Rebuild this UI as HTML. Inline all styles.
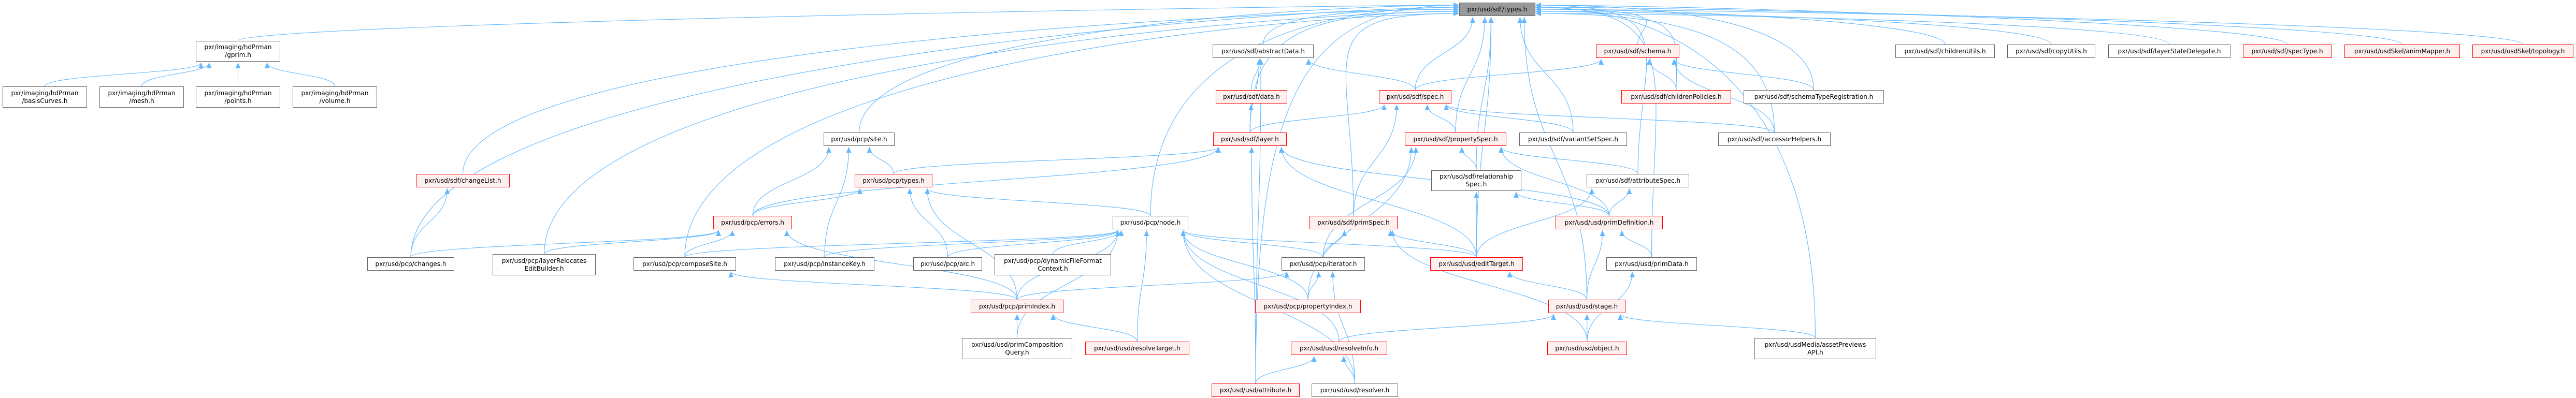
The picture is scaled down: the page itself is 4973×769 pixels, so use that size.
<!DOCTYPE html>
<html><head><meta charset="utf-8">
<style>
html,body{margin:0;padding:0;background:#fff;}
#c{position:relative;width:4973px;height:769px;overflow:hidden;}
svg{position:absolute;left:0;top:0;}
.n{position:absolute;box-sizing:border-box;border:1.5px solid #666;background:#fff;display:flex;align-items:center;justify-content:center;text-align:center;font-family:"DejaVu Sans","Liberation Sans",sans-serif;font-size:12px;line-height:15px;color:#000;white-space:nowrap;}
.r{border-color:#ff0000;background:#fff0f0;}
.g{background:#999;border-color:#666;}
</style></head><body><div id="c">
<svg id="s" width="4973" height="769" xmlns="http://www.w3.org/2000/svg">
<defs><marker id="a" markerUnits="userSpaceOnUse" markerWidth="12" markerHeight="10" refX="11" refY="5" orient="auto"><path d="M0,0 L11,5 L0,10 z" fill="#63b8ff"/></marker></defs>
<g id="e" fill="none" stroke="#63b8ff" stroke-width="1.1"></g>
</svg>
<div class="n g" style="left:2817px;top:5px;width:147px;height:26px">pxr/usd/sdf/types.h</div>
<div class="n" style="left:378px;top:79px;width:163px;height:40px">pxr/imaging/hdPrman<br>/gprim.h</div>
<div class="n" style="left:5px;top:167px;width:163px;height:41px">pxr/imaging/hdPrman<br>/basisCurves.h</div>
<div class="n" style="left:192px;top:167px;width:163px;height:41px">pxr/imaging/hdPrman<br>/mesh.h</div>
<div class="n" style="left:378px;top:167px;width:163px;height:41px">pxr/imaging/hdPrman<br>/points.h</div>
<div class="n" style="left:565px;top:167px;width:163px;height:41px">pxr/imaging/hdPrman<br>/volume.h</div>
<div class="n" style="left:709px;top:497px;width:168px;height:26px">pxr/usd/pcp/changes.h</div>
<div class="n r" style="left:803px;top:336px;width:181px;height:26px">pxr/usd/sdf/changeList.h</div>
<div class="n" style="left:951px;top:491px;width:199px;height:41px">pxr/usd/pcp/layerRelocates<br>EditBuilder.h</div>
<div class="n" style="left:1223px;top:497px;width:198px;height:26px">pxr/usd/pcp/composeSite.h</div>
<div class="n r" style="left:1377px;top:417px;width:152px;height:26px">pxr/usd/pcp/errors.h</div>
<div class="n" style="left:1496px;top:497px;width:192px;height:26px">pxr/usd/pcp/instanceKey.h</div>
<div class="n" style="left:1590px;top:256px;width:137px;height:26px">pxr/usd/pcp/site.h</div>
<div class="n r" style="left:1650px;top:336px;width:150px;height:26px">pxr/usd/pcp/types.h</div>
<div class="n" style="left:1763px;top:497px;width:133px;height:26px">pxr/usd/pcp/arc.h</div>
<div class="n" style="left:1920px;top:491px;width:225px;height:41px">pxr/usd/pcp/dynamicFileFormat<br>Context.h</div>
<div class="n" style="left:2148px;top:417px;width:146px;height:26px">pxr/usd/pcp/node.h</div>
<div class="n r" style="left:1874px;top:579px;width:179px;height:26px">pxr/usd/pcp/primIndex.h</div>
<div class="n" style="left:1857px;top:653px;width:213px;height:41px">pxr/usd/usd/primComposition<br>Query.h</div>
<div class="n r" style="left:2095px;top:660px;width:201px;height:26px">pxr/usd/usd/resolveTarget.h</div>
<div class="n" style="left:2341px;top:86px;width:195px;height:26px">pxr/usd/sdf/abstractData.h</div>
<div class="n r" style="left:2347px;top:174px;width:138px;height:26px">pxr/usd/sdf/data.h</div>
<div class="n r" style="left:2342px;top:256px;width:142px;height:26px">pxr/usd/sdf/layer.h</div>
<div class="n" style="left:2474px;top:497px;width:161px;height:26px">pxr/usd/pcp/iterator.h</div>
<div class="n r" style="left:2423px;top:579px;width:204px;height:26px">pxr/usd/pcp/propertyIndex.h</div>
<div class="n r" style="left:2339px;top:741px;width:170px;height:26px">pxr/usd/usd/attribute.h</div>
<div class="n r" style="left:2492px;top:660px;width:186px;height:26px">pxr/usd/usd/resolveInfo.h</div>
<div class="n" style="left:2532px;top:741px;width:167px;height:26px">pxr/usd/usd/resolver.h</div>
<div class="n r" style="left:3081px;top:86px;width:161px;height:26px">pxr/usd/sdf/schema.h</div>
<div class="n r" style="left:2662px;top:174px;width:140px;height:26px">pxr/usd/sdf/spec.h</div>
<div class="n r" style="left:3130px;top:174px;width:212px;height:26px">pxr/usd/sdf/childrenPolicies.h</div>
<div class="n r" style="left:2712px;top:256px;width:196px;height:26px">pxr/usd/sdf/propertySpec.h</div>
<div class="n" style="left:2933px;top:256px;width:208px;height:26px">pxr/usd/sdf/variantSetSpec.h</div>
<div class="n" style="left:3317px;top:256px;width:217px;height:26px">pxr/usd/sdf/accessorHelpers.h</div>
<div class="n" style="left:2763px;top:329px;width:174px;height:40px">pxr/usd/sdf/relationship<br>Spec.h</div>
<div class="n" style="left:3063px;top:336px;width:198px;height:26px">pxr/usd/sdf/attributeSpec.h</div>
<div class="n r" style="left:2528px;top:417px;width:170px;height:26px">pxr/usd/sdf/primSpec.h</div>
<div class="n r" style="left:3003px;top:417px;width:207px;height:26px">pxr/usd/usd/primDefinition.h</div>
<div class="n r" style="left:2761px;top:497px;width:179px;height:26px">pxr/usd/usd/editTarget.h</div>
<div class="n" style="left:3101px;top:497px;width:175px;height:26px">pxr/usd/usd/primData.h</div>
<div class="n r" style="left:2989px;top:579px;width:149px;height:26px">pxr/usd/usd/stage.h</div>
<div class="n r" style="left:2987px;top:660px;width:154px;height:26px">pxr/usd/usd/object.h</div>
<div class="n" style="left:3366px;top:174px;width:271px;height:26px">pxr/usd/sdf/schemaTypeRegistration.h</div>
<div class="n" style="left:3659px;top:86px;width:192px;height:26px">pxr/usd/sdf/childrenUtils.h</div>
<div class="n" style="left:3875px;top:86px;width:170px;height:26px">pxr/usd/sdf/copyUtils.h</div>
<div class="n" style="left:4070px;top:86px;width:236px;height:26px">pxr/usd/sdf/layerStateDelegate.h</div>
<div class="n" style="left:3387px;top:653px;width:235px;height:41px">pxr/usd/usdMedia/assetPreviews<br>API.h</div>
<div class="n r" style="left:4330px;top:86px;width:171px;height:26px">pxr/usd/sdf/specType.h</div>
<div class="n r" style="left:4526px;top:86px;width:223px;height:26px">pxr/usd/usdSkel/animMapper.h</div>
<div class="n r" style="left:4773px;top:86px;width:195px;height:26px">pxr/usd/usdSkel/topology.h</div>
</div>
<script>
var N={
types:[2817,2964,5,31],gprim:[378,541,79,119],basis:[5,168,167,208],mesh:[192,355,167,208],points:[378,541,167,208],volume:[565,728,167,208],
changes:[709,877,497,523],changeList:[803,984,336,362],reloc:[951,1150,491,532],compose:[1223,1421,497,523],errors:[1377,1529,417,443],
instKey:[1496,1688,497,523],site:[1590,1727,256,282],ptypes:[1650,1800,336,362],arc:[1763,1896,497,523],dffc:[1920,2145,491,532],
node:[2148,2294,417,443],primIndex:[1874,2053,579,605],pcq:[1857,2070,653,694],resTarget:[2095,2296,660,686],abstractData:[2341,2536,86,112],
data:[2347,2485,174,200],layer:[2342,2484,256,282],iterator:[2474,2635,497,523],propIndex:[2423,2627,579,605],attribute:[2339,2509,741,767],
resInfo:[2492,2678,660,686],resolver:[2532,2699,741,767],schema:[3081,3242,86,112],spec:[2662,2802,174,200],childPol:[3130,3342,174,200],
propSpec:[2712,2908,256,282],varSpec:[2933,3141,256,282],accessor:[3317,3534,256,282],relSpec:[2763,2937,329,369],attrSpec:[3063,3261,336,362],
primSpec:[2528,2698,417,443],primDef:[3003,3210,417,443],editTarget:[2761,2940,497,523],primData:[3101,3276,497,523],stage:[2989,3138,579,605],
object:[2987,3141,660,686],schemaReg:[3366,3637,174,200],childUtils:[3659,3851,86,112],copyUtils:[3875,4045,86,112],lsd:[4070,4306,86,112],
asset:[3387,3622,653,694],specType:[4330,4501,86,112],animMapper:[4526,4749,86,112],topology:[4773,4968,86,112]};
var E=[
['gprim','types'],['basis','gprim'],['mesh','gprim'],['points','gprim'],['volume','gprim'],
['changes','types'],['changeList','types'],['reloc','types'],['compose','types'],['site','types'],['node','types'],['abstractData','types'],
['layer','types'],['primSpec','types'],['relSpec','types'],['spec','types'],['propSpec','types'],['varSpec','types'],['attrSpec','types'],
['primData','types'],['stage','types'],['schema','types'],['childPol','types'],['accessor','types'],['schemaReg','types'],['asset','types'],
['childUtils','types'],['copyUtils','types'],['lsd','types'],['specType','types'],['animMapper','types'],['topology','types'],['attribute','types'],['editTarget','types'],
['changes','changeList'],['changes','errors'],['reloc','errors'],['compose','errors'],['primIndex','compose'],['errors','site'],['errors','ptypes'],['errors','layer'],
['instKey','site'],['instKey','node'],['ptypes','site'],['ptypes','layer'],['primIndex','ptypes'],['primIndex','node'],['primIndex','errors'],
['arc','ptypes'],['arc','node'],['node','ptypes'],['dffc','node'],['compose','node'],['iterator','node'],['propIndex','node'],['pcq','node'],
['resTarget','node'],['resInfo','node'],['resolver','node'],['editTarget','node'],['pcq','primIndex'],['resTarget','primIndex'],
['data','abstractData'],['layer','abstractData'],['layer','data'],['spec','abstractData'],['attribute','abstractData'],['spec','schema'],
['primSpec','spec'],['propSpec','spec'],['varSpec','spec'],['layer','spec'],['relSpec','propSpec'],['attrSpec','propSpec'],
['primDef','propSpec'],['primDef','relSpec'],['primDef','attrSpec'],['primDef','layer'],['editTarget','relSpec'],['editTarget','primSpec'],
['editTarget','layer'],['editTarget','attrSpec'],['iterator','primSpec'],['iterator','propSpec'],['propIndex','iterator'],['propIndex','propSpec'],
['stage','editTarget'],['stage','primDef'],['primData','primDef'],['object','stage'],['object','primData'],['object','primSpec'],
['resInfo','stage'],['resolver','resInfo'],['resolver','iterator'],['attribute','resInfo'],['attribute','layer'],['asset','stage'],
['childPol','schema'],['schemaReg','schema'],['accessor','schema'],['accessor','spec'],['primIndex','iterator']];
var g=document.getElementById('e'),ns='http://www.w3.org/2000/svg',lc=0,rc=0;
E.forEach(function(e){
 var c=N[e[0]],p=N[e[1]];var cx=(c[0]+c[1])/2,ct=c[2];var pcx=(p[0]+p[1])/2,pb=p[3];var w=p[1]-p[0];
 var d;
 if(e[1]=='types'&&cx<2700){var ey=10+(lc++%5)*4;var ex=2817;
  d='M'+cx+','+ct+' C'+cx+','+(Math.max(45,ct*0.25))+' '+(ex-300)+','+ey+' '+ex+','+ey;}
 else if(e[1]=='types'&&cx>3100){var ey=10+(rc++%5)*4;var ex=2964;
  d='M'+cx+','+ct+' C'+cx+','+(Math.max(45,ct*0.3))+' '+(ex+300)+','+ey+' '+ex+','+ey;}
 else if(e[1]=='gprim'&&e[0]=='gprim'){}
 else{
  var off=Math.max(-w/2+10,Math.min(w/2-10,(cx-pcx)*0.3));var ex=pcx+off;
  if(ct>pb){var dy=ct-pb;d='M'+cx+','+ct+' C'+cx+','+(ct-dy*0.5)+' '+ex+','+(pb+dy*0.5)+' '+ex+','+(pb+2);}
  else{var side=cx<pcx?p[0]:p[1];var ey=(p[2]+p[3])/2;d='M'+cx+','+ct+' C'+cx+','+(ct-30)+' '+side+','+ey+' '+side+','+ey;}
 }
 var pa=document.createElementNS(ns,'path');pa.setAttribute('d',d);pa.setAttribute('marker-end','url(#a)');g.appendChild(pa);
});
</script>
</body></html>
